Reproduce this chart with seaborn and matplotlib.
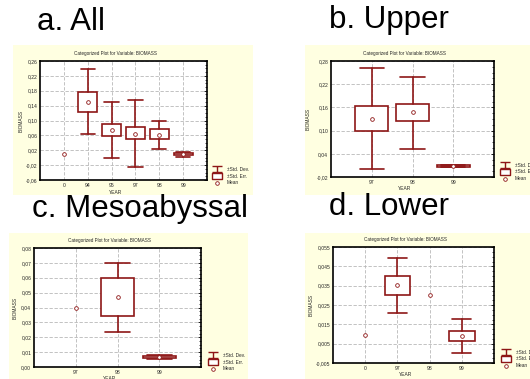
import numpy as np
import pandas as pd
import matplotlib
matplotlib.use("Agg")
import matplotlib.pyplot as plt
import seaborn as sns
from matplotlib.patches import Rectangle
from matplotlib.path import Path
from matplotlib.lines import Line2D
from matplotlib.ticker import AutoMinorLocator

nan = float("nan")

# ---------------- data ----------------
# a. All
a_years = ["0", "94", "95", "97", "98", "99"]
a_mean = [0.010, 0.150, 0.074, 0.065, 0.062, 0.009]
a_se_lo = [nan, 0.124, 0.059, 0.050, 0.049, 0.006]
a_se_hi = [nan, 0.176, 0.090, 0.082, 0.076, 0.012]
a_sd_lo = [nan, 0.063, -0.002, -0.026, 0.024, 0.002]
a_sd_hi = [nan, 0.238, 0.149, 0.156, 0.0995, 0.016]
a_yticks = [0.26, 0.22, 0.18, 0.14, 0.10, 0.06, 0.02, -0.02, -0.06]
a_yticklabels = ["0,26", "0,22", "0,18", "0,14", "0,10", "0,06", "0,02", "-0,02", "-0,06"]

# b. Upper
b_years = ["97", "98", "99"]
b_mean = [0.131, 0.147, 0.0085]
b_se_lo = [0.099, 0.124, 0.006]
b_se_hi = [0.163, 0.170, 0.011]
b_sd_lo = [0.001, 0.053, 0.005]
b_sd_hi = [0.262, 0.238, 0.012]
b_yticks = [0.28, 0.22, 0.16, 0.10, 0.04, -0.02]
b_yticklabels = ["0,28", "0,22", "0,16", "0,10", "0,04", "-0,02"]

# c. Mesoabyssal
c_years = ["97", "98", "99"]
c_mean = [0.040, 0.047, 0.0067]
c_se_lo = [nan, 0.034, 0.0058]
c_se_hi = [nan, 0.060, 0.0077]
c_sd_lo = [nan, 0.0238, 0.0052]
c_sd_hi = [nan, 0.070, 0.0080]
c_yticks = [0.08, 0.07, 0.06, 0.05, 0.04, 0.03, 0.02, 0.01, 0.00]
c_yticklabels = ["0,08", "0,07", "0,06", "0,05", "0,04", "0,03", "0,02", "0,01", "0,00"]

# d. Lower
d_years = ["0", "97", "98", "99"]
d_mean = [0.0094, 0.0354, 0.0302, 0.0089]
d_se_lo = [nan, 0.0302, nan, 0.0066]
d_se_hi = [nan, 0.0401, nan, 0.0113]
d_sd_lo = [nan, 0.0210, nan, 0.0003]
d_sd_hi = [nan, 0.0494, nan, 0.0176]
d_yticks = [0.055, 0.045, 0.035, 0.025, 0.015, 0.005, -0.005]
d_yticklabels = ["0,055", "0,045", "0,035", "0,025", "0,015", "0,005", "-0,005"]

panel_titles = ["a. All", "b. Upper", "c. Mesoabyssal", "d. Lower"]
plot_title = "Categorized Plot for Variable: BIOMASS"
legend_labels = ["\u00b1Std. Dev.", "\u00b1Std. Err.", "Mean"]

# ---------------- style ----------------
sns.set_style("white")
plt.rcParams["font.family"] = ["Liberation Sans", "DejaVu Sans"]

W, H = 530, 379
RED = "#8e1616"
YELLOW = "#ffffe1"

fig = plt.figure(figsize=(W / 100, H / 100), dpi=100)


def fx(px):
    return px / W


def fy(py):
    return 1 - py / H


def draw_panel(years, mean, se_lo, se_hi, sd_lo, sd_hi, yticks, yticklabels,
               plot_px, bg_px, title, title_px, ylab_x, leg_px):
    # yellow background of the Statistica window
    bx0, by0, bx1, by1 = bg_px
    fig.add_artist(Rectangle((fx(bx0), fy(by1)), fx(bx1 - bx0), (by1 - by0) / H,
                             transform=fig.transFigure, facecolor=YELLOW,
                             edgecolor="none", zorder=-5))
    # panel caption
    fig.text(fx(title_px[0]), fy(title_px[1]), title, fontsize=22.5,
             va="baseline", ha="left", color="black")

    x0, y0, x1, y1 = plot_px
    ax = fig.add_axes([fx(x0), fy(y1), fx(x1 - x0), (y1 - y0) / H])
    ax.set_facecolor("white")
    n = len(years)
    pos = np.arange(n)

    stats, spos = [], []
    for i in range(n):
        if not np.isnan(se_lo[i]):
            stats.append(dict(med=mean[i], q1=se_lo[i], q3=se_hi[i],
                              whislo=sd_lo[i], whishi=sd_hi[i], fliers=[]))
            spos.append(pos[i])
    ax.bxp(stats, positions=spos, widths=0.8, capwidths=0.6, patch_artist=True,
           showfliers=False, manage_ticks=False,
           boxprops=dict(facecolor="white", edgecolor=RED, linewidth=1.2),
           whiskerprops=dict(color=RED, linewidth=1.2),
           capprops=dict(color=RED, linewidth=1.2),
           medianprops=dict(visible=False), zorder=3)

    df = pd.DataFrame({"YEAR": pos, "BIOMASS": mean})
    sns.scatterplot(data=df, x="YEAR", y="BIOMASS", ax=ax, marker="o", s=7,
                    facecolor="white", edgecolor=RED, linewidth=0.6, zorder=5)

    ax.set_xlim(-1, n)
    ax.set_ylim(min(yticks), max(yticks))
    ax.set_xticks(pos, labels=years)
    ax.set_yticks(yticks, labels=yticklabels)
    ax.yaxis.set_minor_locator(AutoMinorLocator(4))
    ax.tick_params(which="both", direction="in", labelsize=3.6, pad=2,
                   color="black", right=True, top=False)
    ax.tick_params(which="major", length=2, width=0.6)
    ax.tick_params(which="minor", length=1.2, width=0.5)
    ax.grid(True, color="#b8b8b8", linestyle=(0, (4, 2)), linewidth=0.6)
    ax.set_axisbelow(True)
    for sp in ax.spines.values():
        sp.set_color("black")
        sp.set_linewidth(1.2)
        sp.set_visible(True)

    ax.set_title(plot_title, fontsize=3.3, x=0.45, pad=4.5)
    ax.set_xlabel("YEAR", fontsize=3.5)
    ax.set_ylabel("BIOMASS", fontsize=3.5)
    ax.xaxis.set_label_coords(0.45, -9.5 / (y1 - y0))
    ax.yaxis.set_label_coords(ylab_x, 0.5)

    dev_marker = Path([(-1, 0.7), (1, 0.7), (0, 0.7), (0, -0.7), (-1, -0.7), (1, -0.7)],
                      [Path.MOVETO, Path.LINETO, Path.MOVETO, Path.LINETO,
                       Path.MOVETO, Path.LINETO])
    err_marker = Path([(-1, -0.6), (1, -0.6), (1, 0.6), (-1, 0.6), (-1, -0.6)],
                      [Path.MOVETO, Path.LINETO, Path.LINETO, Path.LINETO, Path.CLOSEPOLY])
    handles = [
        Line2D([], [], ls="none", marker=dev_marker, markersize=6.5,
               markeredgecolor=RED, markerfacecolor="none", markeredgewidth=1.0),
        Line2D([], [], ls="none", marker=err_marker, markersize=6.5,
               markeredgecolor=RED, markerfacecolor="white", markeredgewidth=1.0),
        Line2D([], [], ls="none", marker="o", markersize=2.6,
               markeredgecolor=RED, markerfacecolor="white", markeredgewidth=0.6),
    ]
    ax.legend(handles, legend_labels, loc="center left",
              bbox_to_anchor=(fx(leg_px[0]), fy(leg_px[1])),
              bbox_transform=fig.transFigure, frameon=False, fontsize=3.4,
              handlelength=1.9, handletextpad=1.0, labelspacing=0.4,
              borderpad=0, borderaxespad=0)
    return ax


draw_panel(a_years, a_mean, a_se_lo, a_se_hi, a_sd_lo, a_sd_hi, a_yticks, a_yticklabels,
           plot_px=(40, 61, 207, 180), bg_px=(13, 45, 253, 195),
           title=panel_titles[0], title_px=(37, 30), ylab_x=-0.10, leg_px=(213, 176))
draw_panel(b_years, b_mean, b_se_lo, b_se_hi, b_sd_lo, b_sd_hi, b_yticks, b_yticklabels,
           plot_px=(331, 61, 494, 177), bg_px=(305, 45, 530, 195),
           title=panel_titles[1], title_px=(329, 28), ylab_x=-0.123, leg_px=(501, 172))
draw_panel(c_years, c_mean, c_se_lo, c_se_hi, c_sd_lo, c_sd_hi, c_yticks, c_yticklabels,
           plot_px=(34, 248, 201, 367), bg_px=(9, 233, 248, 379),
           title=panel_titles[2], title_px=(32, 217), ylab_x=-0.10, leg_px=(209, 362))
draw_panel(d_years, d_mean, d_se_lo, d_se_hi, d_sd_lo, d_sd_hi, d_yticks, d_yticklabels,
           plot_px=(333, 247, 494, 363), bg_px=(305, 233, 530, 379),
           title=panel_titles[3], title_px=(329, 215), ylab_x=-0.118, leg_px=(502, 359))

fig.savefig("out.png", dpi=100, facecolor="white")
